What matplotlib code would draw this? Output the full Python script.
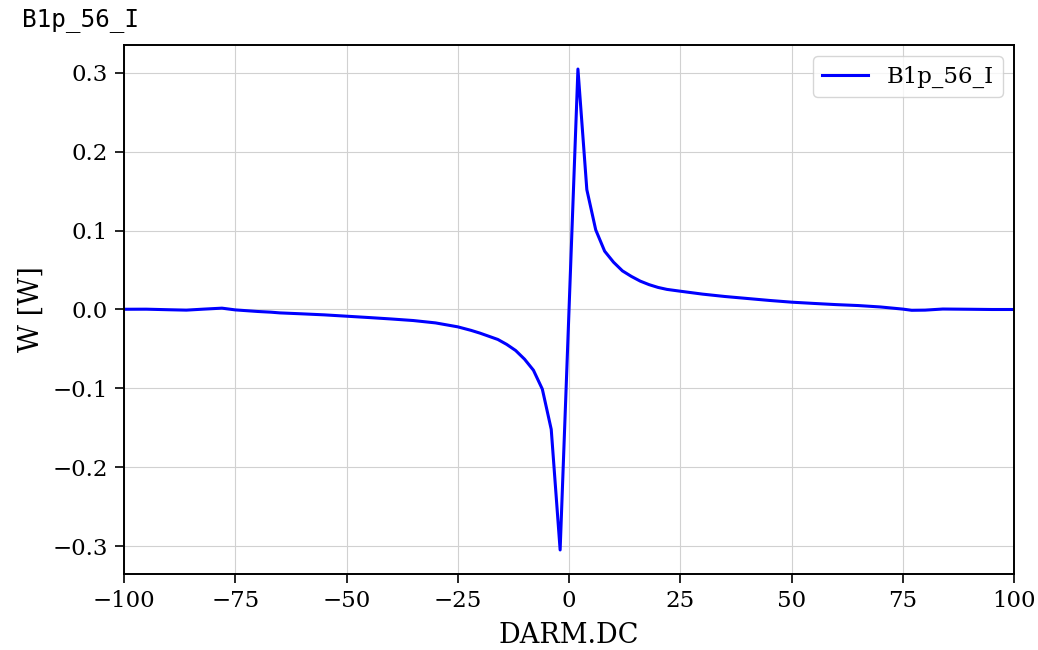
import numpy as np
import matplotlib.pyplot as plt

# DARM.DC sweep and the demodulated B1p 56 MHz I-phase signal
darm = [-100, -95, -90, -86, -82, -78, -75, -70, -67, -65, -60, -55, -50, -45,
        -40, -35, -30, -25, -22, -20, -18, -16, -14, -12, -10, -8, -6, -4, -2,
        0, 2, 4, 6, 8, 10, 12, 14, 16, 18, 20, 22, 25, 30, 35, 40, 45, 50, 55,
        60, 65, 70, 75, 77, 80, 84, 90, 95, 100]
power = [0.0003, 0.0004, -0.0003, -0.0008, 0.0005, 0.0017, -0.0005, -0.0025,
         -0.0034, -0.0043, -0.0055, -0.0068, -0.0085, -0.0102, -0.0120, -0.0140,
         -0.0170, -0.0220, -0.0265, -0.0300, -0.0340, -0.0380, -0.0443, -0.0520,
         -0.0630, -0.0770, -0.1010, -0.1520, -0.3050,
         0.0, 0.3050, 0.1520, 0.1010, 0.0740, 0.0600, 0.0490, 0.0420, 0.0360,
         0.0315, 0.0280, 0.0255, 0.0232, 0.0195, 0.0165, 0.0140, 0.0115, 0.0093,
         0.0077, 0.0062, 0.0050, 0.0032, 0.0005, -0.0010, -0.0008, 0.0006,
         0.0003, 0.0, 0.0]
channel = 'B1p_56_I'

plt.rcParams['font.family'] = 'DejaVu Serif'

fig, ax = plt.subplots(figsize=(10.38, 6.5), dpi=100)
fig.subplots_adjust(left=0.1195, right=0.9769, top=0.9308, bottom=0.1169)

ax.plot(darm, power, color='#0000ff', lw=2.2, label=channel)
ax.set_xlim(-100, 100)
ax.set_xlabel('DARM.DC', fontsize=19.5, labelpad=7)
ax.set_ylabel('W [W]', fontsize=19.5, labelpad=6)
ax.tick_params(labelsize=16.5, width=1.2, length=6.5, pad=5)
ax.grid(True, color='0.82', lw=0.8)
for s in ax.spines.values():
    s.set_linewidth(1.4)
ax.legend(loc='upper right', fontsize=16.5)

fig.text(0.021, 0.969, channel, family='DejaVu Sans Mono', fontsize=17.5,
         va='center', ha='left')

plt.savefig('out.png')
